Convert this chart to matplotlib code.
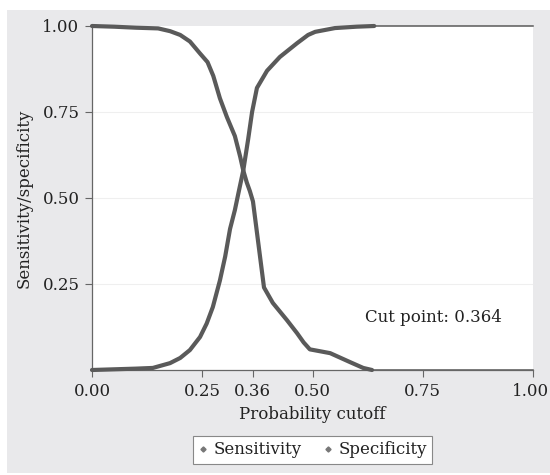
import matplotlib
matplotlib.use("Agg")
import matplotlib.pyplot as plt
from matplotlib.lines import Line2D
from matplotlib.patches import Rectangle
import matplotlib.transforms as mtransforms

# ---- data ----
sens_x = [0.0, 0.05, 0.10, 0.15, 0.177, 0.20, 0.222, 0.245, 0.262, 0.275, 0.29,
          0.306, 0.324, 0.336, 0.343, 0.351, 0.358, 0.365, 0.37, 0.376, 0.383,
          0.39, 0.41, 0.442, 0.465, 0.48, 0.494, 0.515, 0.54, 0.585, 0.615, 0.635]
sens_y = [1.0, 0.998, 0.995, 0.993, 0.985, 0.974, 0.955, 0.92, 0.895, 0.855, 0.79,
          0.735, 0.68, 0.62, 0.58, 0.545, 0.52, 0.49, 0.44, 0.38, 0.31,
          0.24, 0.195, 0.145, 0.107, 0.08, 0.06, 0.055, 0.049, 0.023, 0.006, 0.0]
spec_x = [0.0, 0.05, 0.10, 0.138, 0.177, 0.20, 0.222, 0.245, 0.26, 0.274, 0.29,
          0.302, 0.313, 0.324, 0.333, 0.343, 0.354, 0.363, 0.374, 0.397, 0.426,
          0.465, 0.49, 0.506, 0.551, 0.60, 0.64]
spec_y = [0.0, 0.002, 0.004, 0.006, 0.02, 0.035, 0.058, 0.096, 0.135, 0.183, 0.26,
          0.33, 0.41, 0.465, 0.52, 0.58, 0.67, 0.75, 0.82, 0.87, 0.91,
          0.95, 0.974, 0.983, 0.994, 0.998, 1.0]
tail_x = [1.0]
sens_tail_y = [0.0]
spec_tail_y = [1.0]

xticks = [0.0, 0.25, 0.364, 0.50, 0.75, 1.00]
xticklabels = ["0.00", "0.25", "0.36", "0.50", "0.75", "1.00"]
yticks = [0.25, 0.50, 0.75, 1.00]
yticklabels = ["0.25", "0.50", "0.75", "1.00"]
cut_label = "Cut point: 0.364"
series_names = ["Sensitivity", "Specificity"]

FONT = "DejaVu Serif"
FS = 12
plt.rcParams["font.family"] = [FONT]
LC = "#5a5a5a"
BG = "#e9e9eb"
TC = "#222222"

W, H = 550, 475
fig = plt.figure(figsize=(W / 100, H / 100), dpi=100)
fig.patch.set_facecolor("white")
fig.patches.append(Rectangle((7 / W, 2 / H), 543 / W, 463 / H, transform=fig.transFigure,
                             facecolor=BG, edgecolor="none", zorder=-10))

ax = fig.add_axes([92 / W, (H - 370) / H, (533 - 92) / W, (370 - 26) / H])
ax.set_facecolor("white")
ax.set_xlim(0, 1)
ax.set_ylim(0, 1)

for v in [0.25, 0.5, 0.75]:
    ax.axhline(v, color="#efefef", lw=0.8, zorder=0)

# thin tails beyond the last observed probability
ax.plot([sens_x[-1]] + tail_x, [sens_y[-1]] + sens_tail_y, color=LC, lw=1.1, zorder=2, clip_on=False)
ax.plot([spec_x[-1]] + tail_x, [spec_y[-1]] + spec_tail_y, color=LC, lw=1.1, zorder=2, clip_on=False)
ax.plot(sens_x, sens_y, color=LC, lw=3.0, solid_capstyle="round", solid_joinstyle="round", zorder=3, clip_on=False)
ax.plot(spec_x, spec_y, color=LC, lw=3.0, solid_capstyle="round", solid_joinstyle="round", zorder=3, clip_on=False)

for s in ["top", "right"]:
    ax.spines[s].set_visible(False)
for s in ["left", "bottom"]:
    ax.spines[s].set_color("#666666")
    ax.spines[s].set_linewidth(0.9)

ax.set_xticks(xticks)
ax.set_xticklabels(xticklabels)
ax.set_yticks(yticks)
ax.set_yticklabels(yticklabels)
ax.tick_params(direction="out", length=5, width=0.8, color="#666666", labelsize=FS,
               labelcolor=TC, pad=4)
# keep the last x label inside the figure edge
last = ax.get_xticklabels()[-1]
last.set_transform(last.get_transform() + mtransforms.ScaledTranslation(-3 / 100, 0, fig.dpi_scale_trans))

ax.set_xlabel("Probability cutoff", fontsize=FS, color=TC, labelpad=5)
ax.set_ylabel("Sensitivity/specificity", fontsize=FS, color=TC, labelpad=7)

ax.text(0.619, 0.154, cut_label, fontsize=FS, color=TC, va="center", ha="left")

handles = [Line2D([], [], ls="", marker="D", markersize=2.6, color="#777777") for _ in series_names]
leg = fig.legend(handles, series_names, loc="center", bbox_to_anchor=(312.5 / W, 1 - 450 / H),
                 ncol=2, frameon=True, fancybox=False, edgecolor="#888888", framealpha=1,
                 fontsize=FS, handlelength=0.6, handletextpad=0.3, columnspacing=1.3,
                 borderpad=0.35, borderaxespad=0)
leg.get_frame().set_linewidth(0.8)
for t in leg.get_texts():
    t.set_color(TC)

fig.savefig("out.png", dpi=100, facecolor="white")
